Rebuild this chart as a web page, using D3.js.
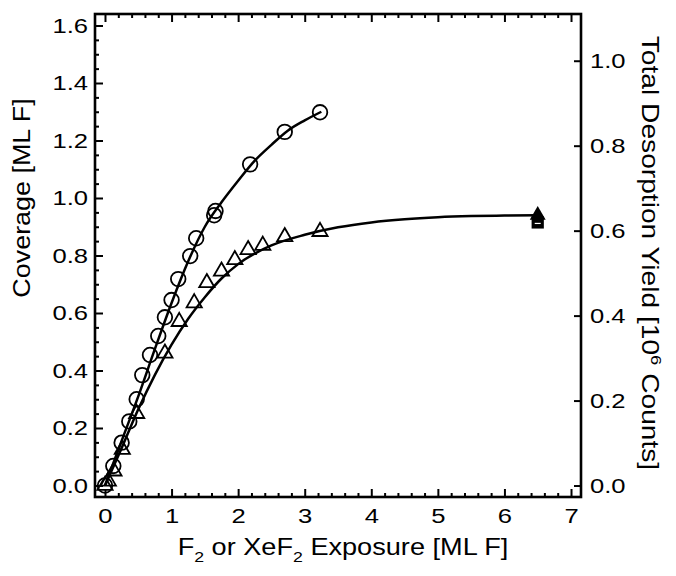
<!DOCTYPE html>
<html lang="en">
<head>
    <meta charset="UTF-8">
    <title>Coverage vs Exposure</title>
    <script src="https://d3js.org/d3.v7.min.js"></script>
    <style>
        body { margin: 0; background: #fff; }
        .fit { fill: none; stroke: #000; stroke-width: 2.5px; }
        .open { fill: none; stroke: #000; stroke-width: 1.8px; }
        .tick text { font-family: "Liberation Sans", Arial, sans-serif; font-size: 21px; fill: #000; }
        .tick line { stroke: #000; stroke-width: 2px; }
        .title { font-family: "Liberation Sans", Arial, sans-serif; font-size: 23px; fill: #000; }
    </style>
</head>
<body>
<svg width="676" height="576"></svg>
<script>
    // tick labels
    const xTicks = [0, 1, 2, 3, 4, 5, 6, 7];
    const yTicks = [0, 0.2, 0.4, 0.6, 0.8, 1.0, 1.2, 1.4, 1.6];
    const yRightTicks = [0, 0.2, 0.4, 0.6, 0.8, 1.0];

    // circles (F2 exposure), [x, coverage]
    const circleX = [0, 0.125, 0.25, 0.365, 0.476, 0.56, 0.676, 0.80, 0.90, 1.0, 1.10, 1.28, 1.37, 1.64, 1.66, 2.18, 2.70, 3.23];
    const circleY = [0, 0.068, 0.149, 0.223, 0.30, 0.384, 0.454, 0.52, 0.585, 0.645, 0.718, 0.798, 0.86, 0.94, 0.955, 1.117, 1.23, 1.298];

    // triangles (XeF2 exposure)
    const triX = [0, 0.05, 0.135, 0.26, 0.476, 0.90, 1.115, 1.34, 1.53, 1.75, 1.95, 2.15, 2.37, 2.70, 3.23];
    const triY = [0, 0.015, 0.05, 0.125, 0.25, 0.46, 0.57, 0.635, 0.705, 0.745, 0.785, 0.82, 0.835, 0.865, 0.883];

    // fitted curves
    const circleFitX = [0, 0.25, 0.5, 0.75, 1.0, 1.25, 1.5, 1.75, 2.0, 2.25, 2.5, 2.75, 3.0, 3.25];
    const circleFitY = [0, 0.155, 0.31, 0.475, 0.635, 0.78, 0.9, 0.985, 1.06, 1.13, 1.185, 1.235, 1.27, 1.30];
    const triFitX = [0, 0.25, 0.5, 0.75, 1.0, 1.25, 1.5, 1.75, 2.0, 2.5, 3.0, 3.5, 4.0, 4.5, 5.0, 5.5, 6.0, 6.5];
    const triFitY = [0, 0.13, 0.265, 0.385, 0.49, 0.58, 0.655, 0.72, 0.77, 0.835, 0.872, 0.898, 0.915, 0.926, 0.933, 0.937, 0.939, 0.94];

    // filled markers at the last exposure
    const filledTri = [6.5, 0.94];
    const filledSquare = [6.5, 0.915];

    const svg = d3.select("svg");
    const mLeft = 95, mRight = 581, mTop = 14, mBottom = 497;
    const stretch = 1.22; // the original lettering is wider than Liberation Sans

    const x = d3.scaleLinear().domain([-0.15, 7.15]).range([mLeft, mRight]);
    const y = d3.scaleLinear().domain([-0.04, 1.64]).range([mBottom, mTop]);
    const yR = d3.scaleLinear().domain([-0.027, 1.11]).range([mBottom, mTop]);

    const minorX = d3.range(0, 7.01, 0.2).filter(v => Math.abs(v - Math.round(v)) > 0.01);
    const minorY = d3.range(0, 1.61, 0.05).filter(v => Math.abs(v * 5 - Math.round(v * 5)) > 0.01);

    function strip(g) {
        g.select(".domain").remove();
        g.attr("font-size", null).attr("font-family", null);
    }
    function widen(g) {
        g.selectAll(".tick text").each(function () {
            const t = d3.select(this);
            t.attr("x", (+t.attr("x") || 0) / stretch).attr("transform", `scale(${stretch},1)`);
        });
    }

    // bottom
    svg.append("g").attr("transform", `translate(0,${mBottom})`)
        .call(d3.axisBottom(x).tickValues(xTicks).tickSize(-8).tickPadding(11).tickFormat(d3.format("d")))
        .call(strip).call(widen);
    svg.append("g").attr("transform", `translate(0,${mBottom})`)
        .call(d3.axisBottom(x).tickValues(minorX).tickSize(-4).tickFormat(""))
        .call(strip);
    // top
    svg.append("g").attr("transform", `translate(0,${mTop})`)
        .call(d3.axisTop(x).tickValues(xTicks).tickSize(-8).tickFormat(""))
        .call(strip);
    svg.append("g").attr("transform", `translate(0,${mTop})`)
        .call(d3.axisTop(x).tickValues(minorX).tickSize(-4).tickFormat(""))
        .call(strip);
    // left
    svg.append("g").attr("transform", `translate(${mLeft},0)`)
        .call(d3.axisLeft(y).tickValues(yTicks).tickSize(-8).tickPadding(7).tickFormat(d3.format(".1f")))
        .call(strip).call(widen);
    svg.append("g").attr("transform", `translate(${mLeft},0)`)
        .call(d3.axisLeft(y).tickValues(minorY).tickSize(-4).tickFormat(""))
        .call(strip);
    // right
    svg.append("g").attr("transform", `translate(${mRight},0)`)
        .call(d3.axisRight(yR).tickValues(yRightTicks).tickSize(-7).tickPadding(9).tickFormat(d3.format(".1f")))
        .call(strip).call(widen);

    // frame
    svg.append("rect")
        .attr("x", mLeft).attr("y", mTop)
        .attr("width", mRight - mLeft).attr("height", mBottom - mTop)
        .attr("fill", "none").attr("stroke", "#000").attr("stroke-width", 2.6);

    // fitted lines
    const line = d3.line().x(d => x(d[0])).y(d => y(d[1])).curve(d3.curveMonotoneX);
    svg.append("path").attr("class", "fit").attr("d", line(d3.zip(circleFitX, circleFitY)));
    svg.append("path").attr("class", "fit").attr("d", line(d3.zip(triFitX, triFitY)));

    // open markers
    svg.append("g").selectAll("circle")
        .data(d3.zip(circleX, circleY))
        .join("circle")
        .attr("class", "open")
        .attr("cx", d => x(d[0])).attr("cy", d => y(d[1]))
        .attr("r", 7.3);

    const tri = d3.symbol().type(d3.symbolTriangle).size(100);
    svg.append("g").selectAll("path")
        .data(d3.zip(triX, triY))
        .join("path")
        .attr("class", "open")
        .attr("transform", d => `translate(${x(d[0])},${y(d[1])})`)
        .attr("d", tri);

    // filled markers
    svg.append("path")
        .attr("transform", `translate(${x(filledSquare[0])},${y(filledSquare[1])})`)
        .attr("d", d3.symbol().type(d3.symbolSquare).size(150)())
        .attr("fill", "#000");
    svg.append("path")
        .attr("transform", `translate(${x(filledTri[0])},${y(filledTri[1])})`)
        .attr("d", d3.symbol().type(d3.symbolTriangle).size(110)())
        .attr("fill", "#000");
    svg.append("line")
        .attr("x1", x(filledSquare[0]) - 3).attr("x2", x(filledSquare[0]) + 3)
        .attr("y1", y(filledSquare[1]) + 1).attr("y2", y(filledSquare[1]) + 1)
        .attr("stroke", "#fff").attr("stroke-width", 1.2);

    // axis titles
    const xt = svg.append("text").attr("class", "title")
        .attr("text-anchor", "middle")
        .attr("transform", "translate(343,555) scale(1.18,1)");
    xt.append("tspan").text("F");
    xt.append("tspan").attr("dy", 7).attr("font-size", 15).text("2");
    xt.append("tspan").attr("dy", -7).text(" or XeF");
    xt.append("tspan").attr("dy", 7).attr("font-size", 15).text("2");
    xt.append("tspan").attr("dy", -7).text(" Exposure [ML F]");

    svg.append("text").attr("class", "title")
        .attr("text-anchor", "middle")
        .attr("transform", "translate(30,198) rotate(-90) scale(1.17,1)")
        .text("Coverage [ML F]");

    const rt = svg.append("text").attr("class", "title")
        .attr("text-anchor", "middle")
        .attr("transform", "translate(642,253) rotate(90) scale(1.225,1)");
    rt.append("tspan").text("Total Desorption Yield [10");
    rt.append("tspan").attr("dy", -9).attr("font-size", 15).text("6");
    rt.append("tspan").attr("dy", 9).text(" Counts]");
</script>
</body>
</html>
